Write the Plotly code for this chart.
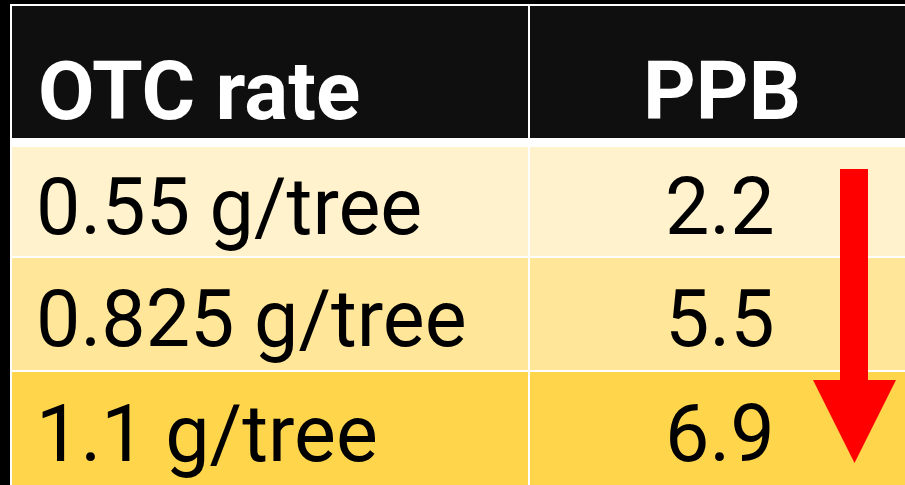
import plotly.graph_objects as go

# ---- data ----
headers = ["OTC rate", "PPB"]
rates = ["0.55 g/tree", "0.825 g/tree", "1.1 g/tree"]
ppb = ["2.2", "5.5", "6.9"]
row_fills = ["#FFF2CC", "#FFE699", "#FFD54C"]

# ---- layout constants (pixel space) ----
W, H = 905, 485
X0, XDIV, X1 = 12, 529, 905
HEAD_TOP, HEAD_BOT = 6, 139
row_tops = [147, 258, 372]
row_bots = [256, 370, 485]
FONT = "Roboto"
FS = 79
FS_HEAD = 82

shapes = []
annotations = []

# white table background (grid lines)
shapes.append(dict(type="rect", x0=10, x1=W, y0=4, y1=H, fillcolor="white", line_width=0, layer="below"))
# header cells
shapes.append(dict(type="rect", x0=X0, x1=XDIV - 1, y0=HEAD_TOP, y1=HEAD_BOT - 1, fillcolor="#0F0F0F", line_width=0, layer="below"))
shapes.append(dict(type="rect", x0=XDIV + 1, x1=X1, y0=HEAD_TOP, y1=HEAD_BOT - 1, fillcolor="#0F0F0F", line_width=0, layer="below"))

annotations.append(dict(x=36, y=91, text="<b>%s</b>" % headers[0], xanchor="left", yanchor="middle",
                        showarrow=False, font=dict(family=FONT, size=FS_HEAD, color="white")))
annotations.append(dict(x=722, y=91, text="<b>%s</b>" % headers[1], xanchor="center", yanchor="middle",
                        showarrow=False, font=dict(family=FONT, size=FS_HEAD, color="white")))

for i, (r, v) in enumerate(zip(rates, ppb)):
    t, b = row_tops[i], row_bots[i]
    shapes.append(dict(type="rect", x0=X0, x1=XDIV - 1, y0=t, y1=b, fillcolor=row_fills[i], line_width=0, layer="below"))
    shapes.append(dict(type="rect", x0=XDIV + 1, x1=X1, y0=t, y1=b, fillcolor=row_fills[i], line_width=0, layer="below"))
    cy = (t + b) / 2 + 5
    annotations.append(dict(x=34, y=cy, text=r, xanchor="left", yanchor="middle", showarrow=False,
                            font=dict(family=FONT, size=FS, color="black")))
    annotations.append(dict(x=720, y=cy, text=v, xanchor="center", yanchor="middle", showarrow=False,
                            font=dict(family=FONT, size=FS, color="black")))

# red down arrow
shapes.append(dict(type="path", path="M 840 169 L 868 169 L 868 380 L 896 380 L 854.5 463 L 813 380 L 840 380 Z",
                   fillcolor="#FF0000", line_width=0, layer="above"))

fig = go.Figure()
fig.add_trace(go.Scatter(x=[0, W], y=[0, H], mode="markers", marker=dict(opacity=0), hoverinfo="skip", showlegend=False))
fig.update_layout(
    width=W, height=H, margin=dict(l=0, r=0, t=0, b=0),
    paper_bgcolor="black", plot_bgcolor="black",
    xaxis=dict(range=[0, W], visible=False, fixedrange=True),
    yaxis=dict(range=[H, 0], visible=False, fixedrange=True),
    shapes=shapes, annotations=annotations, showlegend=False,
)
fig.write_html("out.html", config={"displayModeBar": False},
               post_script="document.body.style.margin='0';document.body.style.overflow='hidden';")
